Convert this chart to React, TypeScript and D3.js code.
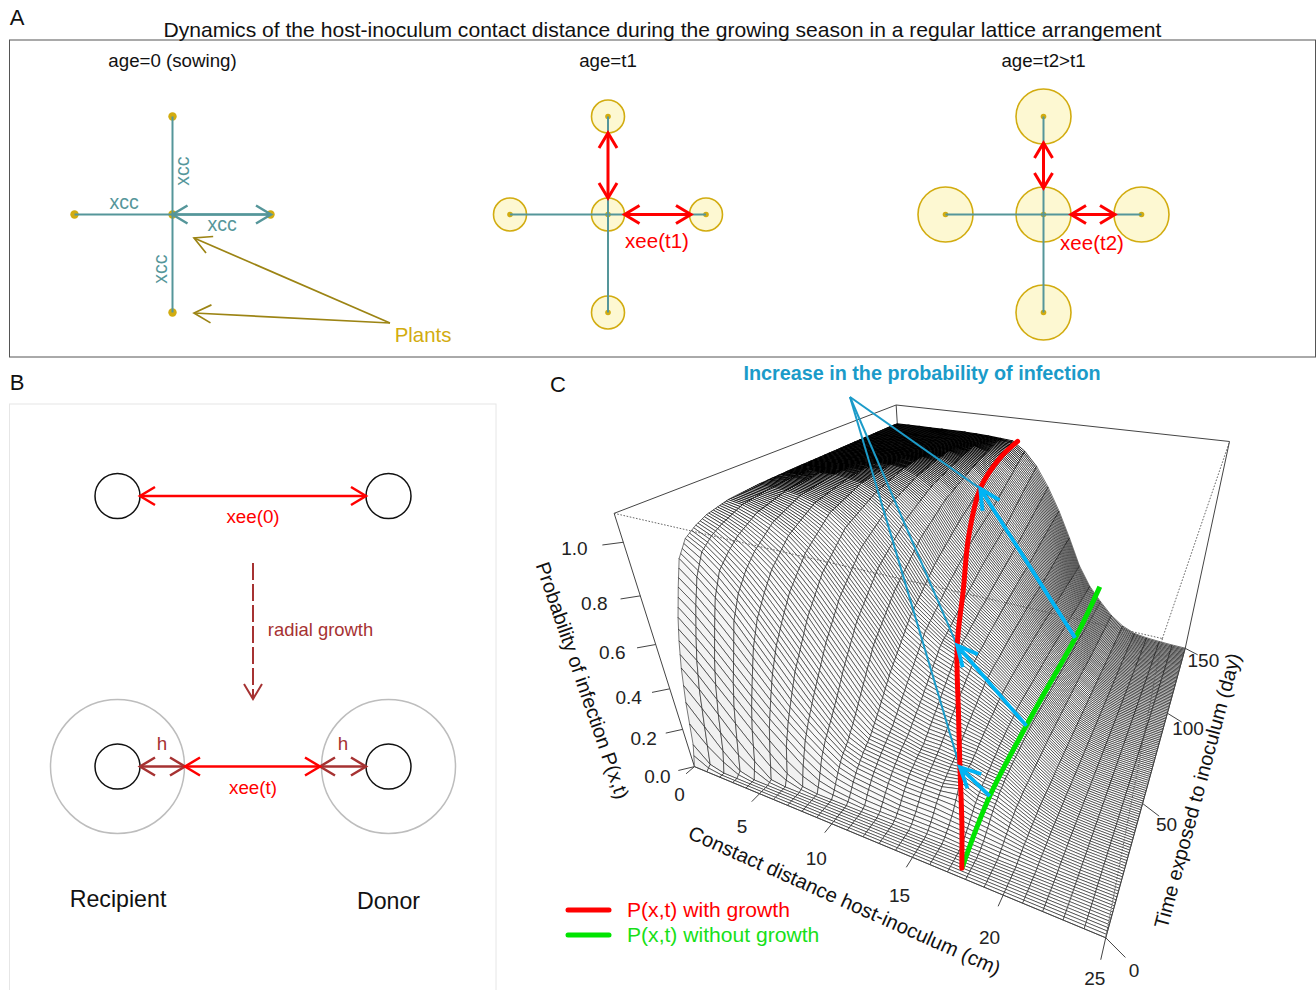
import React from "react";
import * as d3 from "d3";

// ---------- Panel C data ----------
const distanceTicks = [0, 5, 10, 15, 20, 25];
const timeTicks = [0, 50, 100, 150];
const probTicks = [0, 0.2, 0.4, 0.6, 0.8, 1.0];
const distances = d3.range(0, 26);
const meshDays = d3.range(0, 151);
// Days at which the surface was read. The daily mesh rows between them only set line density.
const timeKnots = [0, 2, 4, 6, 8, 10, 13, 16, 20, 25, 30, 40, 55, 75, 95, 115, 135, 150];
// One row per contact distance 0..25 cm, one value per entry of timeKnots.
const probByDistance = [
  [0, .1, .3, .45, .56, .65, .76, .86, .92, .95, .97, .99, .998, 1, 1, 1, 1, 1],
  [0, .02, .2, .37, .49, .58, .7, .8, .88, .92, .945, .98, .995, 1, 1, 1, 1, 1],
  [0, 0, .1, .27, .4, .5, .62, .73, .82, .87, .91, .96, .99, 1, 1, 1, 1, 1],
  [0, 0, .02, .17, .31, .41, .53, .65, .74, .81, .86, .93, .98, .998, 1, 1, 1, 1],
  [0, 0, 0, .08, .22, .32, .44, .55, .65, .73, .8, .89, .96, .99, 1, 1, 1, 1],
  [0, 0, 0, .01, .13, .24, .35, .45, .55, .64, .72, .83, .93, .98, .995, 1, 1, 1],
  [0, 0, 0, 0, .05, .17, .27, .35, .45, .54, .63, .76, .88, .95, .985, .995, 1, 1],
  [0, 0, 0, 0, .01, .1, .2, .27, .35, .44, .53, .67, .81, .91, .96, .985, .995, .998],
  [0, 0, 0, 0, 0, .05, .14, .2, .26, .34, .43, .58, .73, .85, .92, .96, .985, .995],
  [0, 0, 0, 0, 0, .03, .09, .14, .18, .25, .33, .49, .64, .78, .87, .92, .965, .99],
  [0, 0, 0, 0, 0, .02, .07, .11, .15, .19, .25, .38, .54, .68, .78, .86, .93, .985],
  [0, 0, 0, 0, 0, .01, .06, .1, .14, .18, .22, .33, .49, .61, .71, .78, .87, .94],
  [0, 0, 0, 0, 0, .01, .05, .09, .13, .17, .2, .29, .44, .54, .63, .7, .8, .87],
  [0, 0, 0, 0, 0, .01, .04, .08, .125, .155, .18, .27, .41, .49, .56, .63, .71, .77],
  [0, 0, 0, 0, 0, .01, .04, .08, .12, .15, .18, .26, .37, .44, .5, .55, .61, .65],
  [0, 0, 0, 0, 0, .01, .04, .08, .12, .15, .17, .24, .33, .38, .42, .45, .49, .51],
  [0, 0, 0, 0, 0, .01, .035, .07, .14, .16, .17, .22, .28, .31, .33, .34, .35, .36],
  [0, 0, 0, 0, 0, .005, .03, .06, .1, .13, .15, .19, .23, .24, .25, .25, .25, .25],
  [0, 0, 0, 0, 0, .005, .02, .05, .09, .12, .14, .16, .18, .18, .18, .18, .17, .17],
  [0, 0, 0, 0, 0, 0, .015, .035, .06, .08, .09, .1, .11, .11, .11, .1, .1, .1],
  [0, 0, 0, 0, 0, 0, .01, .02, .03, .04, .05, .05, .055, .055, .055, .05, .05, .05],
  [0, 0, 0, 0, 0, 0, .005, .01, .015, .02, .02, .025, .025, .025, .025, .025, .025, .02],
  [0, 0, 0, 0, 0, 0, 0, .005, .005, .01, .01, .01, .01, .01, .01, .01, .01, .01],
  [0, 0, 0, 0, 0, 0, 0, 0, .002, .003, .004, .005, .005, .005, .005, .005, .005, .005],
  [0, 0, 0, 0, 0, 0, 0, 0, .001, .001, .002, .002, .002, .002, .002, .002, .002, .002],
  [0, 0, 0, 0, 0, 0, 0, 0, 0, 0, .001, .001, .001, .001, .001, .001, .001, .001],
];
// Curves drawn on the surface
const redDistance = [17.8, 17, 16.1, 14.8, 13.1, 11.9, 10.7, 10, 10, 10.4];
const redTime = [0, 10, 20, 35, 55, 75, 95, 115, 135, 150];
const redProb = [.05, .12, .25, .33, .46, .58, .72, .86, .94, .985];
const greenDistance = [17.8, 17.8, 17.8, 17.8, 17.8];
const greenTime = [0, 20, 55, 115, 150];
const greenProb = [.05, .16, .19, .2, .26];
const arrowDays = [20, 55, 115];
const arrowStartDays = [20, 52, 111];
const zTop = 1.1;

// Screen position of the eight corners of the perspective box: [u, v, w, px, py]
const boxAnchors = [
  [0, 0, 0, 694, 767], [1, 0, 0, 1105, 938], [1, 1, 0, 1185, 648], [0, 1, 0, 908, 584],
  [0, 0, 1, 615, 513], [1, 0, 1, 1163, 638], [1, 1, 1, 1230, 442], [0, 1, 1, 895, 405],
];

function solveCamera(anchors: number[][]) {
  const rows: number[][] = [], rhs: number[] = [];
  for (const [u, v, w, x, y] of anchors) {
    rows.push([1, u, v, w, 0, 0, 0, 0, -x * u, -x * v, -x * w]); rhs.push(x);
    rows.push([0, 0, 0, 0, 1, u, v, w, -y * u, -y * v, -y * w]); rhs.push(y);
  }
  const n = 11;
  const M = d3.range(n).map(i => [...d3.range(n).map(j => d3.sum(rows, r => r[i] * r[j])), d3.sum(rows, (r, k) => r[i] * rhs[k])]);
  for (let c = 0; c < n; c++) {
    let p = c;
    for (let r = c + 1; r < n; r++) if (Math.abs(M[r][c]) > Math.abs(M[p][c])) p = r;
    [M[c], M[p]] = [M[p], M[c]];
    for (let r = 0; r < n; r++) {
      if (r === c) continue;
      const f = M[r][c] / M[c][c];
      for (let k = c; k <= n; k++) M[r][k] -= f * M[c][k];
    }
  }
  return M.map((r, i) => r[n] / r[i]);
}
const cam = solveCamera(boxAnchors);
const uScale = d3.scaleLinear().domain([0, 25]).range([0, 1]);
const vScale = d3.scaleLinear().domain([0, 150]).range([0, 1]);
const wScale = d3.scaleLinear().domain([0, zTop]).range([0, 1]);
function projUnit(u: number, v: number, w: number): [number, number] {
  const d = 1 + cam[8] * u + cam[9] * v + cam[10] * w;
  return [(cam[0] + cam[1] * u + cam[2] * v + cam[3] * w) / d, (cam[4] + cam[5] * u + cam[6] * v + cam[7] * w) / d];
}
const proj = (x: number, t: number, p: number) => projUnit(uScale(x), vScale(t), wScale(p));

const columnScales = probByDistance.map(col => d3.scaleLinear().domain(timeKnots).range(col));
const grid = distances.map((_, i) => meshDays.map(t => columnScales[i](t)));
const shade = d3.scaleLinear<string>().domain([0, .012, .05]).range(["#ffffff", "#fafafa", "#f1f1f1"]).clamp(true);
// The packed rows on the plateau read as solid black in the reference; elsewhere the mesh stays mid grey.
const plateauWidth = d3.scaleLinear().domain([14, 30, 60]).range([1.05, 0.75, 0.55]).clamp(true);
const slopeWidth = d3.scaleLinear().domain([14, 60]).range([0.58, 0.52]).clamp(true);

const FONT = "'Liberation Sans', Arial, sans-serif";
const line = d3.line();
const RED = "#ff0000", TEAL = "#55969a", GOLD = "#d2ac10", OLIVE = "#9c8414", BROWN = "#a63232", BLUE = "#1b9bc9", SKY = "#00b4f5", GREEN = "#00e400";

type P = [number, number];
function head(to: P, from: P, len: number, half: number) {
  const a = Math.atan2(from[1] - to[1], from[0] - to[0]);
  const c = Math.cos(a), s = Math.sin(a);
  return line([[to[0] + c * len - s * half, to[1] + s * len + c * half], to, [to[0] + c * len + s * half, to[1] + s * len - c * half]])!;
}
function Arrow({ a, b, color, w = 2.5, len = 15, half = 9, both = true }: { a: P; b: P; color: string; w?: number; len?: number; half?: number; both?: boolean }) {
  return (
    <g fill="none" stroke={color} strokeWidth={w}>
      <path d={line([a, b])!} />
      <path d={head(b, a, len, half)} />
      {both && <path d={head(a, b, len, half)} />}
    </g>
  );
}
function T({ x, y, s, c = "#111", rot = 0, anchor = "middle", weight = "normal", children }: any) {
  return (
    <text transform={`translate(${x},${y}) rotate(${rot})`} fontSize={s} fill={c} textAnchor={anchor} dominantBaseline="middle" fontFamily={FONT} fontWeight={weight}>
      {children}
    </text>
  );
}

// ---------- Panel A ----------
const latticeUnits: P[] = [[0, -1], [-1, 0], [0, 0], [1, 0], [0, 1]];
const latticeCentres = [172.5, 608, 1043.5];
const latticeRadius = [0, 16.5, 27.5];
const ageLabels = ["age=0 (sowing)", "age=t1", "age=t2>t1"];
const arm = d3.scaleLinear().domain([0, 1]).range([0, 98]);

function Lattice({ i }: { i: number }) {
  const cx = latticeCentres[i], cy = 214.5;
  const pt = (q: P): P => [cx + arm(q[0]), cy + arm(q[1])];
  const r = latticeRadius[i];
  return (
    <g>
      {r > 0 && latticeUnits.map((q, k) => <circle key={k} cx={pt(q)[0]} cy={pt(q)[1]} r={r} fill="#fdf8d2" stroke={GOLD} strokeWidth={1.6} />)}
      {latticeUnits.map((q, k) => <circle key={k} cx={pt(q)[0]} cy={pt(q)[1]} r={i === 0 ? 4.2 : 2.8} fill={GOLD} />)}
      <path d={line([pt([-1, 0]), pt([1, 0])])!} stroke={TEAL} strokeWidth={2} fill="none" />
      <path d={line([pt([0, -1]), pt([0, 1])])!} stroke={TEAL} strokeWidth={2} fill="none" />
      <T x={cx} y={62} s={18.7}>{ageLabels[i]}</T>
    </g>
  );
}

// ---------- Panel C ----------
function Surface() {
  const cells: React.ReactNode[] = [];
  for (let j = meshDays.length - 2; j >= 0; j--) {
    for (let i = 0; i < distances.length - 1; i++) {
      const x0 = distances[i], x1 = distances[i + 1], t0 = meshDays[j], t1 = meshDays[j + 1];
      const g = Math.abs(grid[i][j + 1] - grid[i][j]);
      const poly: P[] = [proj(x0, t0, grid[i][j]), proj(x1, t0, grid[i + 1][j]), proj(x1, t1, grid[i + 1][j + 1]), proj(x0, t1, grid[i][j + 1])];
      const area = Math.abs(d3.polygonArea(poly));
      cells.push(
        <path key={`${i}-${j}`} d={line(poly)! + "Z"} fill={shade(g)} strokeWidth={grid[i][j] > 0.93 ? plateauWidth(area) : slopeWidth(area)} />
      );
    }
  }
  return <g stroke="#000">{cells}</g>;
}

const smooth = d3.line().curve(d3.curveCatmullRom);
const redPts = redTime.map((t, k) => proj(redDistance[k], t, redProb[k]));
const greenPts = greenTime.map((t, k) => proj(greenDistance[k], t, greenProb[k]));
const at = (ts: number[], vs: number[], t: number) => d3.scaleLinear().domain(ts).range(vs)(t);
const redAt = (t: number) => proj(at(redTime, redDistance, t), t, at(redTime, redProb, t));
const greenAt = (t: number) => proj(at(greenTime, greenDistance, t), t, at(greenTime, greenProb, t));
const apex: P = [850, 397];

function BoxLine({ a, b, dotted }: { a: number[]; b: number[]; dotted?: boolean }) {
  return <path d={line([projUnit(a[0], a[1], a[2]), projUnit(b[0], b[1], b[2])])!} stroke={dotted ? "#555" : "#444"} strokeWidth={dotted ? 0.9 : 1} strokeDasharray={dotted ? "1.6 1.6" : undefined} fill="none" />;
}

export default function App() {
  const tick = "#444";
  return (
    <svg width={1316} height={990} style={{ position: "absolute", left: 0, top: 0, background: "#fff" }}>
      {/* Panel A */}
      <T x={17} y={19.5} s={22}>A</T>
      <rect x={9.5} y={40} width={1306} height={317} fill="none" stroke="#555" strokeWidth={1} />
      <T x={662.5} y={31} s={21.1}>Dynamics of the host-inoculum contact distance during the growing season in a regular lattice arrangement</T>
      {[0, 1, 2].map(i => <Lattice key={i} i={i} />)}
      <Arrow a={[172.5, 214.5]} b={[271, 214.5]} color={TEAL} />
      <T x={124} y={203.5} s={19.5} c={TEAL}>xcc</T>
      <T x={222} y={225.5} s={19.5} c={TEAL}>xcc</T>
      <T x={184} y={171} s={19.5} c={TEAL} rot={-90}>xcc</T>
      <T x={162} y={269} s={19.5} c={TEAL} rot={-90}>xcc</T>
      <Arrow a={[390, 323]} b={[194, 238]} color={OLIVE} w={1.7} len={17} half={9} both={false} />
      <Arrow a={[390, 323]} b={[194, 313]} color={OLIVE} w={1.7} len={17} half={9} both={false} />
      <T x={423} y={336.5} s={20.4} c={GOLD}>Plants</T>
      <Arrow a={[608, 133]} b={[608, 198]} color={RED} w={3} />
      <Arrow a={[624.5, 214.5]} b={[691, 214.5]} color={RED} w={3} />
      <T x={657} y={242.5} s={20.5} c={RED}>xee(t1)</T>
      <Arrow a={[1043.5, 143]} b={[1043.5, 188]} color={RED} w={3} />
      <Arrow a={[1071, 214.5]} b={[1115, 214.5]} color={RED} w={3} />
      <T x={1092} y={244.5} s={20.5} c={RED}>xee(t2)</T>

      {/* Panel B */}
      <T x={17} y={384} s={22}>B</T>
      <rect x={9.5} y={404} width={486.5} height={600} fill="none" stroke="#e6e6e6" strokeWidth={1} />
      {[117.5, 388.5].map(x => <circle key={x} cx={x} cy={496} r={22.5} fill="none" stroke="#111" strokeWidth={1.5} />)}
      <Arrow a={[140, 496]} b={[366, 496]} color={RED} />
      <T x={253} y={518.5} s={18.8} c={RED}>xee(0)</T>
      <path d={line([[253, 563], [253, 698]])!} stroke={BROWN} strokeWidth={2} strokeDasharray="17 4" fill="none" />
      <path d={head([253, 699], [253, 600], 15, 9)} stroke={BROWN} strokeWidth={2} fill="none" />
      <T x={320.5} y={631} s={18.4} c={BROWN}>radial growth</T>
      {[117.5, 388.5].map(x => (
        <g key={x}>
          <circle cx={x} cy={766.5} r={67} fill="none" stroke="#bdbdbd" strokeWidth={1.5} />
          <circle cx={x} cy={766.5} r={22.5} fill="none" stroke="#111" strokeWidth={1.5} />
        </g>
      ))}
      <Arrow a={[140, 766.5]} b={[185, 766.5]} color={BROWN} />
      <Arrow a={[320, 766.5]} b={[366, 766.5]} color={BROWN} />
      <Arrow a={[185, 766.5]} b={[320, 766.5]} color={RED} />
      <T x={162} y={745.5} s={18.8} c={BROWN}>h</T>
      <T x={343} y={745.5} s={18.8} c={BROWN}>h</T>
      <T x={253} y={789} s={18.8} c={RED}>xee(t)</T>
      <T x={118} y={900.5} s={23.2}>Recipient</T>
      <T x={388.5} y={902.5} s={23.2}>Donor</T>

      {/* Panel C */}
      <T x={558} y={386} s={22}>C</T>
      <T x={922} y={375} s={19.8} c={BLUE} weight="bold">Increase in the probability of infection</T>
      <BoxLine a={[0, 1, 0]} b={[0, 1, 1]} />
      <BoxLine a={[0, 1, 1]} b={[1, 1, 1]} />
      <BoxLine a={[0, 0, 1]} b={[0, 1, 1]} />
      <BoxLine a={[1, 1, 1]} b={[1, 1, 0]} />
      <BoxLine a={[0, 0, 0]} b={[0, 0, 1]} />
      <Surface />
      <BoxLine a={[0, 0, 0]} b={[1, 0, 0]} />
      <BoxLine a={[1, 0, 0]} b={[1, 1, 0]} />
      <BoxLine a={[0, 0, 1]} b={[1, 0, 1]} dotted />
      <BoxLine a={[1, 0, 1]} b={[1, 1, 1]} dotted />
      <BoxLine a={[1, 0, 1]} b={[1, 0, 0]} dotted />
      {/* ticks */}
      {distanceTicks.map(d => {
        const o = proj(d, 0, 0);
        const e = projUnit(uScale(d), -0.025, 0);
        const lab = projUnit(uScale(d), -0.07, 0);
        const tip: P = d === 25 ? [o[0] - 5, o[1] + 22] : e;
        const lp: P = d === 25 ? [o[0] - 11, o[1] + 42] : d === 0 ? [lab[0] + 9, lab[1] + 9] : [lab[0] + 5 - (d === 20 ? 4 : 0), lab[1] + 11];
        return (
          <g key={d}>
            <path d={line([o, tip])!} stroke={tick} strokeWidth={1} />
            <T x={lp[0]} y={lp[1]} s={19} c="#222">{d}</T>
          </g>
        );
      })}
      {timeTicks.map(t => {
        const v = vScale(t);
        const o = proj(25, t, 0);
        const e = projUnit(1.04, v - 0.02, 0);
        const lab = projUnit(1.058, v - 0.033, 0);
        return (
          <g key={t}>
            <path d={line([o, e])!} stroke={tick} strokeWidth={1} />
            <T x={lab[0]} y={lab[1] + 3} s={19} c="#222">{t}</T>
          </g>
        );
      })}
      {probTicks.map(p => {
        const w = wScale(p);
        const o = projUnit(0, 0, w);
        const e = projUnit(-0.025, -0.025, w);
        const lab = projUnit(-0.06, -0.06, w);
        return (
          <g key={p}>
            <path d={line([o, e])!} stroke={tick} strokeWidth={1} />
            <T x={lab[0] + 2} y={lab[1] + 1.5} s={19} c="#222">{p.toFixed(1)}</T>
          </g>
        );
      })}
      <T x={581} y={681} s={20} rot={71}>Probability of infection P(x,t)</T>
      <T x={844} y={902} s={20.3} rot={24}>Constact distance host-inoculum (cm)</T>
      <T x={1199} y={791} s={20} rot={-75}>Time exposed to inoculum (day)</T>

      {/* curves */}
      <g stroke={BLUE} strokeWidth={2} fill="none">
        {arrowDays.map(t => <path key={t} d={line([apex, redAt(t)])!} />)}
      </g>
      <path d={smooth(greenPts)!} stroke={GREEN} strokeWidth={5} fill="none" />
      <path d={smooth(redPts)!} stroke={RED} strokeWidth={5} fill="none" strokeLinecap="round" />
      {arrowDays.map((t, k) => <Arrow key={t} a={greenAt(arrowStartDays[k])} b={redAt(t)} color={SKY} w={3.8} len={20} half={10} both={false} />)}

      {/* legend */}
      <path d="M568 910H609" stroke={RED} strokeWidth={5} strokeLinecap="round" />
      <path d="M568 935H609" stroke={GREEN} strokeWidth={5} strokeLinecap="round" />
      <T x={627} y={911} s={21.1} c={RED} anchor="start">P(x,t) with growth</T>
      <T x={627} y={936} s={21.1} c="#17e017" anchor="start">P(x,t) without growth</T>
    </svg>
  );
}
